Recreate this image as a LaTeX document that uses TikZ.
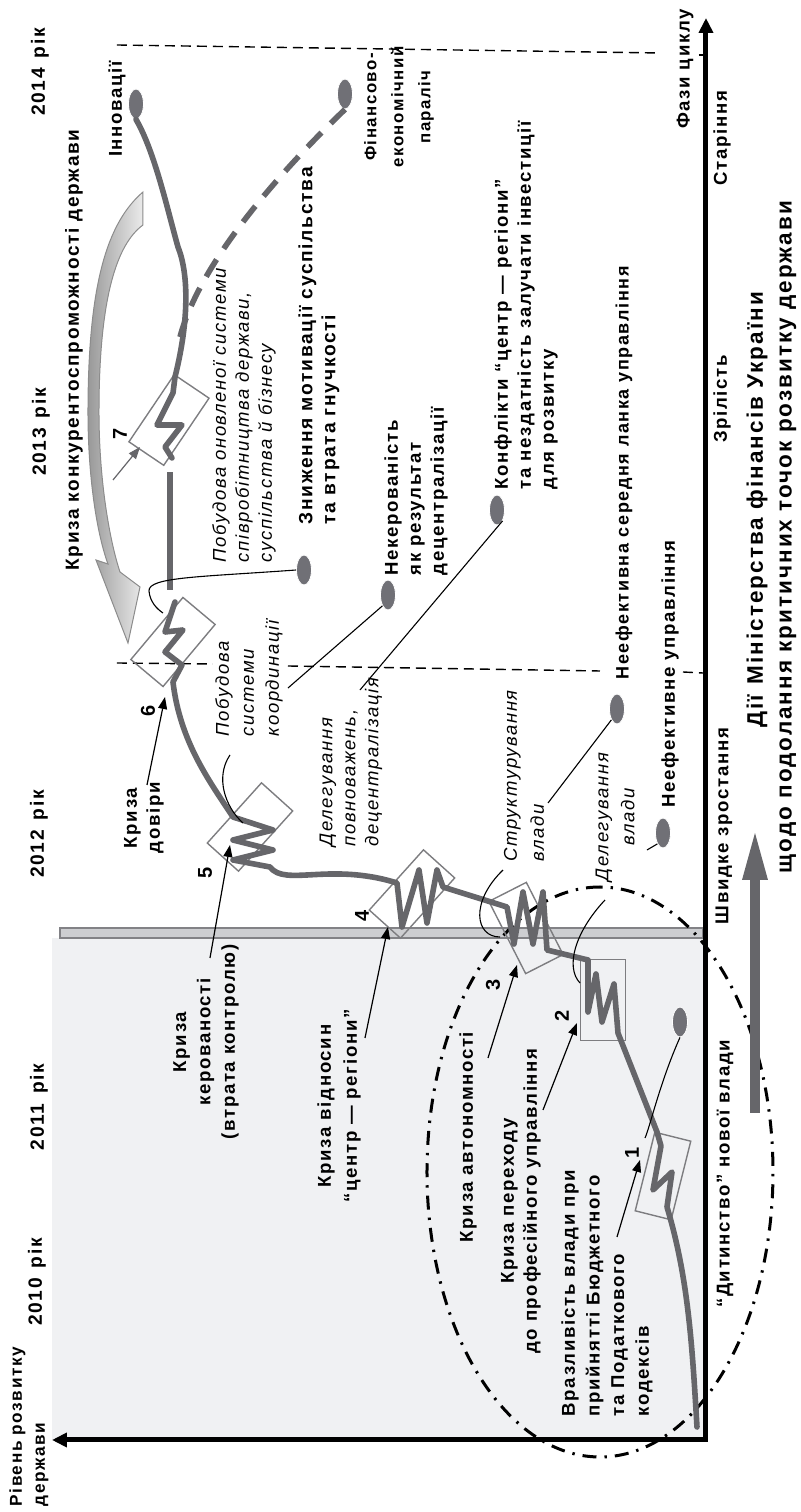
\documentclass[tikz,border=0pt]{standalone}
\usepackage{fontspec}
\setmainfont{Liberation Sans}[LetterSpace=9]
\usetikzlibrary{arrows.meta,shapes.geometric}

\definecolor{bgfill}{RGB}{240,241,243}
\definecolor{barfill}{RGB}{205,206,209}
\definecolor{bargray}{RGB}{130,130,134}
\definecolor{curvecol}{RGB}{102,102,106}
\definecolor{bubblecol}{RGB}{112,112,118}
\definecolor{boxcol}{RGB}{125,125,128}

\tikzset{every picture/.style={line width=0.75pt}}
\tikzset{
  lbl/.style={font=\bfseries\fontsize{9.3}{11.5}\selectfont, inner sep=0pt, align=left},
  big/.style={font=\bfseries\fontsize{11.25}{13}\selectfont, inner sep=0pt},
  itl/.style={font=\itshape\fontsize{9.25}{11.5}\selectfont, inner sep=0pt, align=left},
  num/.style={font=\bfseries\fontsize{10}{12}\selectfont, inner sep=0pt},
  bubble/.style={ellipse, fill=bubblecol, draw=white, line width=0.4pt, minimum width=15pt, minimum height=7.5pt, inner sep=0pt},
  crisisbox/.style={draw=boxcol, line width=0.7pt, minimum width=40.5pt, minimum height=21pt, inner sep=0pt},
  trail/.style={draw=curvecol, line width=2.8pt, line join=round, line cap=round},
  link/.style={line width=0.55pt},
  ptr/.style={line width=0.6pt, -{Triangle[length=6pt,width=4.5pt]}},
  phaseline/.style={line width=0.7pt, dash pattern=on 5pt off 3pt},
  ddot/.style={line width=1.5pt, dash pattern=on 7pt off 4pt on 1.2pt off 4pt},
}

\begin{document}
\begin{tikzpicture}[x=0.5pt,y=0.5pt]
\begin{scope}[rotate=90,transform shape]
\useasboundingbox (0,0) rectangle (1512,800);

% first phase background and border bar
\fill[bgfill] (72,94) rectangle (574,748);
\filldraw[fill=barfill, draw=bargray, line width=0.6pt] (574,97) rectangle (584,740);

% phase borders
\draw[phaseline] (1467,683) -- (1459,140);
\draw[line width=0.7pt] (1457,101) -- (1457,96);
\draw[phaseline] (849,683) -- (848,587);
\draw[phaseline] (846,512) -- (841,200);
\draw[phaseline] (840,117) -- (839,97);

% dash-dot oval round the first phase
\draw[ddot] (340,200) ellipse [x radius=285, y radius=173];

% axes
\draw[line width=2.5pt, line join=miter, {Triangle[length=7.5pt,width=7pt]}-{Triangle[length=7.5pt,width=7pt]}] (72,748) -- (72,94) -- (1494,94);

% crisis boxes
\node[crisisbox, rotate=-14, minimum height=18.5pt] (box1) at (336,137) {};
\node[crisisbox, minimum height=22.5pt] (box2) at (512,197) {};
\node[crisisbox, rotate=27] (box3) at (584,274) {};
\node[crisisbox, rotate=-42] (box4) at (618,388) {};
\node[crisisbox, rotate=-42] (box5) at (685,550) {};
\node[crisisbox, rotate=-40] (box6) at (870,627) {};
\node[crisisbox, rotate=-34] (box7) at (1092,631) {};

% bubbles
\node[bubble] (bInnov) at (1408,664) {};
\node[bubble] (bFin) at (1418,455) {};
\node[bubble] (bMotiv) at (942,496) {};
\node[bubble] (bNekr) at (917,412) {};
\node[bubble] (bKonf) at (1002,303) {};
\node[bubble] (bLanka) at (803,183) {};
\node[bubble] (bUpr) at (679,137) {};
\node[bubble] (bFirst) at (490,120) {};

% curved arrow of competitiveness crisis
\shade[left color=black!40, right color=black!8, draw=black!45, line width=0.5pt]
  (1320,657) .. controls (1290,692) and (1230,712) .. (1100,712)
  .. controls (1030,712) and (975,702) .. (948,692) -- (952,704) -- (869,672)
  -- (925,660) -- (940,680) .. controls (970,690) and (1030,701) .. (1100,701)
  .. controls (1215,701) and (1268,683) .. (1287,657) -- cycle;

% development trajectory
\draw[trail] (85,103) .. controls (170,108) and (235,112) .. (305,133)
  -- (340,128) -- (322,147) -- (366,139) -- (380,143)
  -- (479,182)
  -- (528,186) -- (490,198) -- (538,204) -- (500,212) -- (552,212)
  -- (562,253)
  -- (620,257) -- (568,267) -- (620,277) -- (568,286) -- (605,293)
  -- (625,357)
  -- (642,363) -- (589,373) -- (642,381) -- (585,398) -- (629,403)
  .. controls (650,470) and (625,515) .. (645,530)
  -- (652,567) -- (662,527) -- (672,567) -- (682,527) -- (695,567)
  .. controls (730,590) and (770,620) .. (830,627)
  -- (847,618) -- (860,635) -- (882,617) -- (880,635) -- (910,625);
\draw[trail, line cap=butt] (922,630) -- (1040,630);
\draw[trail] (1054,628) -- (1065,635) -- (1087,618) -- (1087,643) -- (1119,627) -- (1135,625)
  .. controls (1195,610) and (1240,612) .. (1265,622)
  .. controls (1300,632) and (1360,645) .. (bInnov.west);
\draw[trail, line cap=butt, dash pattern=on 10pt off 6.5pt] (bFin.west) .. controls (1340,520) and (1250,600) .. (1175,620);

% thin links
\coordinate (eMotiv) at (899,637);
\coordinate (eNekr) at (824,512);
\coordinate (eKonf) at (822,440);
\coordinate (eLanka) at (709,252);
\coordinate (eUpr) at (662,153);
\coordinate (eFirst) at (374,155);
\coordinate (sStruct) at (642,297);
\coordinate (eStruct) at (575,300);
\coordinate (sDeleg) at (612,195);
\coordinate (eDeleg) at (529,220);
\coordinate (sCoord) at (757,570);
\coordinate (eCoord) at (689,557);
\draw[link] (bMotiv.north) .. controls (935,600) and (935,652) .. (921,651) .. controls (910,650) and (903,643) .. (eMotiv);
\draw[link] (bNekr.north west) -- (eNekr);
\draw[link] (bKonf.south west) -- (eKonf);
\draw[link] (bLanka.north west) -- (eLanka);
\draw[link] (bUpr.north west) -- (eUpr);
\draw[link] (bFirst.west) .. controls (430,140) and (385,150) .. (eFirst);
\draw[link] (sStruct) .. controls (610,330) and (575,325) .. (eStruct);
\draw[link] (sDeleg) .. controls (580,225) and (545,235) .. (eDeleg);
\draw[link] (sCoord) .. controls (735,585) and (705,575) .. (eCoord);

% years
\node[lbl, font=\bfseries\fontsize{9.6}{11.5}\selectfont] (y2010) at (230,763) {2010\enspace рік};
\node[lbl, font=\bfseries\fontsize{9.6}{11.5}\selectfont] (y2011) at (405,761) {2011\enspace рік};
\node[lbl, font=\bfseries\fontsize{9.6}{11.5}\selectfont] (y2012) at (678,761) {2012\enspace рік};
\node[lbl, font=\bfseries\fontsize{9.6}{11.5}\selectfont] (y2013) at (1080,759) {2013\enspace рік};
\node[lbl, font=\bfseries\fontsize{9.6}{11.5}\selectfont] (y2014) at (1440,760) {2014\enspace рік};

% axis titles and phases
\node[lbl, anchor=west, font=\bfseries\fontsize{8.6}{11.5}\selectfont] (yTitle) at (5,771) {Рівень розвитку\\держави};
\node[lbl] (xTitle) at (1443,115) {Фази циклу};
\node[lbl] (ph1) at (338,75) {“Дитинство” нової влади};
\node[lbl] (ph2) at (686,76) {Швидке зростання};
\node[lbl] (ph3) at (1113,78) {Зрілість};
\node[lbl] (ph4) at (1374,78) {Старіння};

% ministry actions
\fill[curvecol] (399,40) rectangle (632,50);
\fill[curvecol] (632,32) -- (679,45) -- (632,58) -- cycle;
\node[big] (act1) at (1002,43) {Дії\enspace Міністерства фінансів України};
\node[big] (act2) at (975,12) {щодо подолання критичних точок розвитку держави};

% crisis labels
\node[lbl, anchor=west, font=\bfseries\fontsize{9.3}{12.3}\selectfont] (cr1) at (95,193) {Вразливість влади при\\прийнятті Бюджетного\\та Податкового\\кодексів};
\node[lbl, align=center] (cr2) at (311,279) {Криза переходу\\до професійного управління};
\node[lbl] (cr3) at (375,332) {Криза автономності};
\node[lbl, align=center, font=\bfseries\fontsize{9.3}{13}\selectfont] (cr4) at (406,461) {Криза відносин\\“центр — регіони”};
\node[lbl, align=center, font=\bfseries\fontsize{9.3}{12.2}\selectfont] (cr5) at (470,594) {Криза\\керованості\\(втрата контролю)};
\node[lbl, align=center] (cr6) at (694,656) {Криза\\довіри};
\node[lbl, font=\bfseries\fontsize{9.5}{11.5}\selectfont] (cr7) at (1162,726) {Криза конкурентоспроможності держави};

\node[num] (n1) at (359,168) {1};
\node[num] (n2) at (496,238) {2};
\node[num] (n3) at (527,307) {3};
\node[num] (n4) at (596,438) {4};
\node[num] (n5) at (639,595) {5};
\node[num] (n6) at (801,652) {6};
\node[num] (n7) at (1078,680) {7};

\coordinate (t1) at (352,160);
\coordinate (t2) at (489,223);
\coordinate (t3) at (547,283);
\coordinate (t4) at (585,412);
\coordinate (t5) at (667,570);
\coordinate (t6) at (815,635);
\coordinate (t7) at (1065,660);
\draw[ptr] (275,183) -- (t1);
\draw[ptr] (402,257) -- (t2);
\draw[ptr] (454,312) -- (t3);
\draw[ptr] (474,435) -- (t4);
\draw[ptr] (554,590) -- (t5);
\draw[ptr] (727,653) -- (t6);
\draw[ptr, draw=curvecol, fill=curvecol] (1032,687) -- (t7);

% consequences
\node[lbl] (tInnov) at (1403,683) {Інновації};
\node[lbl, align=center, font=\bfseries\fontsize{8.4}{13.5}\selectfont] (tFin) at (1405,401) {Фінансово-\\економічний\\параліч};
\node[lbl, anchor=west, font=\bfseries\fontsize{9.6}{11.5}\selectfont] (tMotiv) at (987,481) {Зниження мотивації суспільства\\та втрата гнучкості};
\node[lbl, anchor=west] (tNekr) at (936,384) {Некерованість\\як результат\\децентралізації};
\node[lbl, anchor=west] (tKonf) at (1022,274) {Конфлікти “центр — регіони”\\та нездатність залучати інвестиції\\для розвитку};
\node[lbl, anchor=west, font=\bfseries\fontsize{9}{11.5}\selectfont] (tLanka) at (832,176) {Неефективна середня ланка управління};
\node[lbl, anchor=west] (tUpr) at (704,130) {Неефективне управління};

% measures
\node[itl, anchor=west] (mRenew) at (949,556) {Побудова оновленої системи\\співробітництва держави,\\суспільства й бізнесу};
\node[itl, anchor=west, font=\itshape\fontsize{9.25}{12.5}\selectfont] (mCoord) at (775,551) {Побудова\\системи\\координації};
\node[itl, anchor=west] (mDecentr) at (665,449) {Делегування\\повноважень,\\децентралізація};
\node[itl, anchor=west, font=\itshape\fontsize{9.25}{13.5}\selectfont] (mStruct) at (650,276) {Структурування\\влади};
\node[itl, align=center, font=\itshape\fontsize{9.25}{13}\selectfont] (mDeleg) at (695,185) {Делегування\\влади};

\end{scope}
\end{tikzpicture}
\end{document}
